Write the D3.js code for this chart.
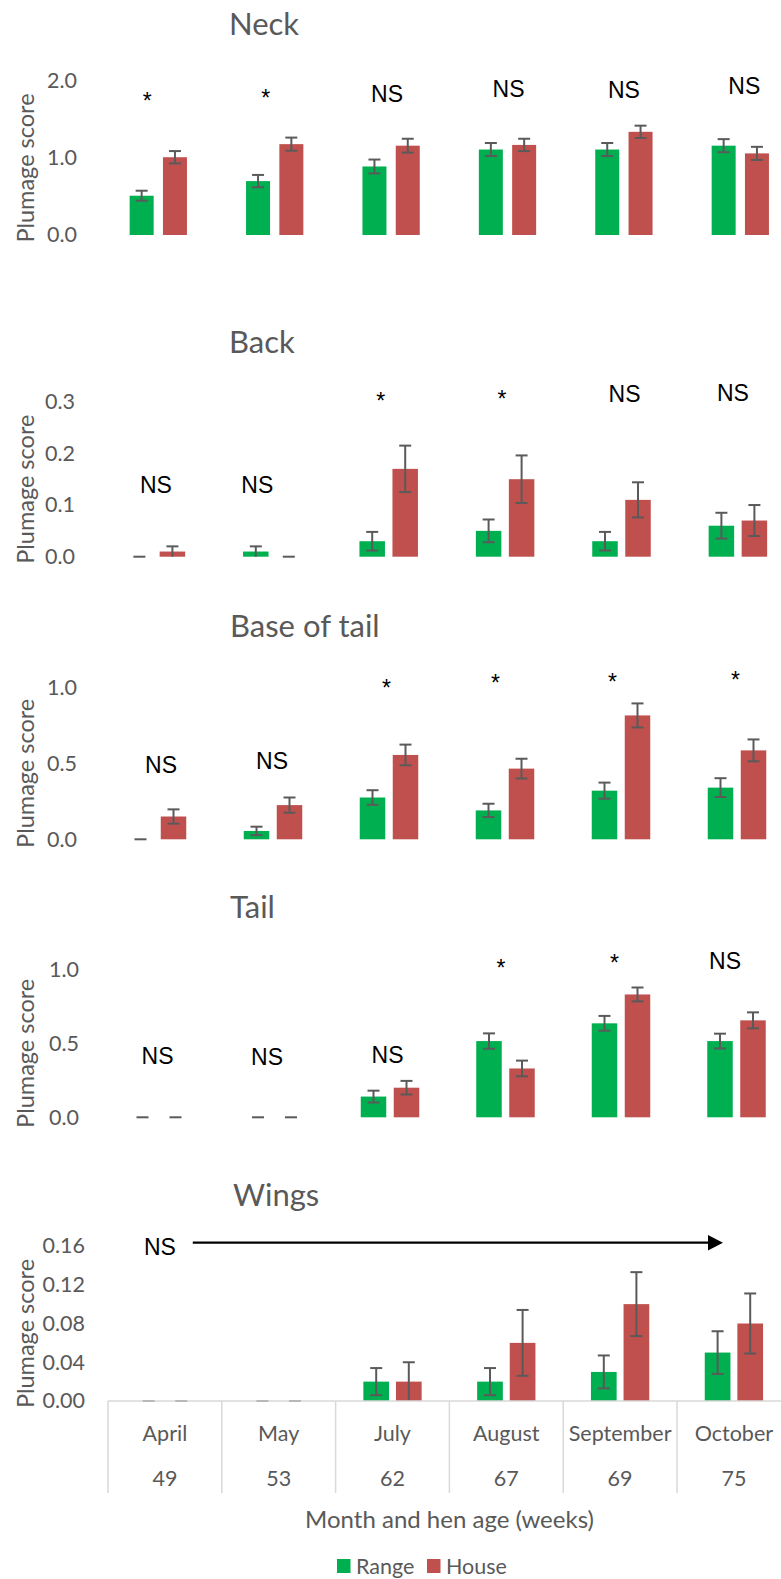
<!DOCTYPE html>
<html>
<head>
<meta charset="utf-8">
<script src="https://cdn.jsdelivr.net/npm/d3@7"></script>
<style>
  html, body { margin: 0; padding: 0; background: #fff; }
  svg { display: block; }
</style>
</head>
<body>
<script>
// ---- categories -------------------------------------------------------
const months = ["April", "May", "July", "August", "September", "October"];
const ages = ["49", "53", "62", "67", "69", "75"];
const seriesNames = ["Range", "House"];

// ---- plumage scores (mean) and standard errors --------------------------
const neckRange    = [0.51, 0.70, 0.89, 1.11, 1.11, 1.16];
const neckRangeSE  = [0.065, 0.08, 0.09, 0.085, 0.085, 0.085];
const neckHouse    = [1.01, 1.18, 1.16, 1.17, 1.34, 1.06];
const neckHouseSE  = [0.08, 0.085, 0.09, 0.08, 0.08, 0.085];
const neckSig      = ["*", "*", "NS", "NS", "NS", "NS"];

const backRange    = [0, 0.01, 0.03, 0.05, 0.03, 0.06];
const backRangeSE  = [0, 0.01, 0.018, 0.022, 0.018, 0.025];
const backHouse    = [0.01, 0, 0.17, 0.15, 0.11, 0.07];
const backHouseSE  = [0.01, 0, 0.045, 0.046, 0.034, 0.03];
const backSig      = ["NS", "NS", "*", "*", "NS", "NS"];

const baseRange    = [0, 0.055, 0.275, 0.19, 0.32, 0.34];
const baseRangeSE  = [0, 0.028, 0.048, 0.044, 0.053, 0.062];
const baseHouse    = [0.15, 0.225, 0.555, 0.465, 0.815, 0.585];
const baseHouseSE  = [0.047, 0.05, 0.068, 0.065, 0.079, 0.072];
const baseSig      = ["NS", "NS", "*", "*", "*", "*"];

const tailRange    = [0, 0, 0.14, 0.515, 0.635, 0.515];
const tailRangeSE  = [0, 0, 0.04, 0.052, 0.05, 0.05];
const tailHouse    = [0, 0, 0.20, 0.33, 0.83, 0.655];
const tailHouseSE  = [0, 0, 0.046, 0.053, 0.047, 0.054];
const tailSig      = ["NS", "NS", "NS", "*", "*", "NS"];

const wingsRange   = [0, 0, 0.02, 0.02, 0.03, 0.05];
const wingsRangeSE = [0, 0, 0.014, 0.014, 0.017, 0.022];
const wingsHouse   = [0, 0, 0.02, 0.06, 0.10, 0.08];
const wingsHouseSE = [0, 0, 0.02, 0.034, 0.033, 0.031];
const wingsSig     = "NS";

// ---- tick labels ------------------------------------------------------
const neckTicks  = [0, 1, 2];
const backTicks  = [0, 0.1, 0.2, 0.3];
const baseTicks  = [0, 0.5, 1];
const tailTicks  = [0, 0.5, 1];
const wingsTicks = [0, 0.04, 0.08, 0.12, 0.16];

// ---- styling ----------------------------------------------------------
const colors = { Range: "#00B050", House: "#C0504D" };
const grayText = "#595959";
const uiFont = "Lato, 'Open Sans', sans-serif";
const markFont = "'Liberation Sans', Arial, sans-serif";

const W = 781, H = 1579;
const svg = d3.select("body").append("svg")
  .attr("width", W).attr("height", H)
  .attr("viewBox", `0 0 ${W} ${H}`);

// Panel geometry; significance marks sit at a score level per column
// with a small horizontal nudge in pixels.
const panels = [
  { title: "Neck", range: neckRange, rangeSE: neckRangeSE, house: neckHouse, houseSE: neckHouseSE,
    sig: neckSig, sigLevel: [1.64, 1.68, 1.73, 1.79, 1.78, 1.83], sigNudge: [-11, -9, -4, 1, 0, 4],
    yMax: 2.0, ticks: neckTicks, fmt: ".1f",
    top: 81, bottom: 235, left: 100.1, step: 116.4, bw: 24, pair: 33.3, tickX: 77, titleX: 229, titleY: 35 },
  { title: "Back", range: backRange, rangeSE: backRangeSE, house: backHouse, houseSE: backHouseSE,
    sig: backSig, sigLevel: [0.123, 0.123, 0.286, 0.29, 0.30, 0.302], sigNudge: [0, -15, -8, -3, 3, -5],
    yMax: 0.3, ticks: backTicks, fmt: ".1f",
    top: 401.7, bottom: 556.7, left: 97.7, step: 116.4, bw: 25.5, pair: 33, tickX: 75, titleX: 229, titleY: 353 },
  { title: "Base of tail", range: baseRange, rangeSE: baseRangeSE, house: baseHouse, houseSE: baseHouseSE,
    sig: baseSig, sigLevel: [0.438, 0.463, 0.945, 0.974, 0.98, 0.998], sigNudge: [4, -1, -2.5, -9.5, -8.5, -1.5],
    yMax: 1.0, ticks: baseTicks, fmt: ".1f",
    top: 687.3, bottom: 839.3, left: 99, step: 116, bw: 25.5, pair: 33, tickX: 77, titleX: 230, titleY: 637 },
  { title: "Tail", range: tailRange, rangeSE: tailRangeSE, house: tailHouse, houseSE: tailHouseSE,
    sig: tailSig, sigLevel: [0.358, 0.353, 0.367, 0.957, 0.991, 1.002], sigNudge: [-1.5, -7.5, -2.5, -4.5, -6.5, -11.5],
    yMax: 1.0, ticks: tailTicks, fmt: ".1f",
    top: 969.3, bottom: 1117.3, left: 101.25, step: 115.5, bw: 25.5, pair: 33, tickX: 79, titleX: 230, titleY: 918 },
  { title: "Wings", range: wingsRange, rangeSE: wingsRangeSE, house: wingsHouse, houseSE: wingsHouseSE,
    sig: null, yMax: 0.16, ticks: wingsTicks, fmt: ".2f",
    top: 1246, bottom: 1401, left: 108, step: 113.8, bw: 25.7, pair: 32.6, tickX: 85, titleX: 233, titleY: 1206 }
];

let wingsX = null, wingsY = null;

panels.forEach(p => {
  const g = svg.append("g").attr("class", "panel");

  const x = d3.scaleBand().domain(months).range([p.left, p.left + p.step * months.length]);
  const half = (p.pair + p.bw) / 2;
  const xs = d3.scaleBand().domain(seriesNames)
    .range([x.bandwidth() / 2 - half, x.bandwidth() / 2 + half])
    .paddingInner(1 - p.bw / p.pair);
  const y = d3.scaleLinear().domain([0, p.yMax]).range([p.bottom, p.top]);

  if (p.title === "Wings") { wingsX = x; wingsY = y; }

  // title
  g.append("text")
    .attr("x", p.titleX).attr("y", p.titleY)
    .attr("font-family", uiFont).attr("font-size", 31)
    .attr("fill", grayText)
    .text(p.title);

  // y axis tick labels
  const axis = d3.axisLeft(y).tickValues(p.ticks).tickFormat(d3.format(p.fmt))
    .tickSize(0).tickPadding(0);
  const ax = g.append("g").attr("transform", `translate(${p.tickX},0)`).call(axis);
  ax.select(".domain").remove();
  ax.selectAll("text")
    .attr("font-family", uiFont).attr("font-size", 21.5)
    .attr("fill", grayText);

  // y axis title
  g.append("text")
    .attr("transform", `translate(25,${(p.top + p.bottom) / 2 + 10}) rotate(-90)`)
    .attr("text-anchor", "middle").attr("dominant-baseline", "central")
    .attr("font-family", uiFont).attr("font-size", 23.5)
    .attr("fill", grayText)
    .text("Plumage score");

  const rows = [];
  months.forEach((m, i) => {
    rows.push({ month: m, series: "Range", value: p.range[i], se: p.rangeSE[i] });
    rows.push({ month: m, series: "House", value: p.house[i], se: p.houseSE[i] });
  });

  // bars
  g.append("g").selectAll("rect")
    .data(rows.filter(d => d.value > 0))
    .join("rect")
    .attr("x", d => x(d.month) + xs(d.series))
    .attr("width", xs.bandwidth())
    .attr("y", d => y(d.value))
    .attr("height", d => y(0) - y(d.value))
    .attr("fill", d => colors[d.series]);

  // error bars
  const capHalf = 6;
  const eb = g.append("g").attr("stroke", "#5a5a5a").attr("stroke-width", 2).attr("fill", "none")
    .selectAll("g").data(rows).join("g")
    .attr("transform", d => `translate(${x(d.month) + xs(d.series) + xs.bandwidth() / 2},0)`);
  eb.filter(d => d.se > 0).append("line")
    .attr("y1", d => y(Math.max(0, d.value - d.se)))
    .attr("y2", d => y(d.value + d.se));
  eb.append("line")
    .attr("x1", -capHalf).attr("x2", capHalf)
    .attr("y1", d => y(d.value + d.se)).attr("y2", d => y(d.value + d.se));
  eb.filter(d => d.value - d.se > 0).append("line")
    .attr("x1", -capHalf).attr("x2", capHalf)
    .attr("y1", d => y(d.value - d.se)).attr("y2", d => y(d.value - d.se));

  // significance marks
  if (p.sig) {
    g.append("g").selectAll("text")
      .data(months.map((m, i) => ({ month: m, label: p.sig[i], level: p.sigLevel[i], nudge: p.sigNudge[i] })))
      .join("text")
      .attr("x", d => x(d.month) + x.bandwidth() / 2 + d.nudge)
      .attr("y", d => y(d.level))
      .attr("text-anchor", "middle")
      .attr("font-family", markFont).attr("font-size", 23)
      .attr("fill", "#000")
      .text(d => d.label);
  }
});

// ---- wings: trend arrow, category axis ---------------------------------
{
  const x = wingsX, y = wingsY;
  const step = x.step();
  const arrowY = y(0.1634);
  const x0 = x(months[0]) + step * 0.745;
  const xTip = x(months[months.length - 1]) + step * 0.404;

  svg.append("text")
    .attr("x", x(months[0]) + x.bandwidth() / 2 - 5).attr("y", y(0.1507))
    .attr("text-anchor", "middle")
    .attr("font-family", markFont).attr("font-size", 23)
    .text(wingsSig);

  svg.append("line")
    .attr("x1", x0).attr("x2", xTip - 10)
    .attr("y1", arrowY).attr("y2", arrowY)
    .attr("stroke", "#000").attr("stroke-width", 2.3);
  svg.append("path")
    .attr("d", `M${xTip - 15},${arrowY - 7.7} L${xTip},${arrowY} L${xTip - 15},${arrowY + 7.7} Z`)
    .attr("fill", "#000");

  const axisColor = "#d9d9d9";
  const base = y(0);
  svg.append("line")
    .attr("x1", x.range()[0]).attr("x2", x.range()[1])
    .attr("y1", base).attr("y2", base)
    .attr("stroke", axisColor).attr("stroke-width", 1.5);

  const bounds = months.map(m => x(m)).concat([x.range()[1]]);
  svg.append("g").selectAll("line").data(bounds).join("line")
    .attr("x1", d => d).attr("x2", d => d)
    .attr("y1", base).attr("y2", base + 92)
    .attr("stroke", axisColor).attr("stroke-width", 1.5);

  svg.append("g").selectAll("text").data(months).join("text")
    .attr("x", d => x(d) + x.bandwidth() / 2).attr("y", base + 32)
    .attr("text-anchor", "middle").attr("dominant-baseline", "central")
    .attr("font-family", uiFont).attr("font-size", 21.5).attr("fill", grayText)
    .text(d => d);

  svg.append("g").selectAll("text").data(ages).join("text")
    .attr("x", (d, i) => x(months[i]) + x.bandwidth() / 2).attr("y", base + 77)
    .attr("text-anchor", "middle").attr("dominant-baseline", "central")
    .attr("font-family", uiFont).attr("font-size", 21.5).attr("fill", grayText)
    .text(d => d);

  svg.append("text")
    .attr("x", 449.5).attr("y", base + 117)
    .attr("text-anchor", "middle").attr("dominant-baseline", "central")
    .attr("font-family", uiFont).attr("font-size", 24).attr("fill", grayText)
    .text("Month and hen age (weeks)");

  // legend
  const lg = svg.append("g").attr("transform", `translate(337,${base + 165})`);
  const items = lg.selectAll("g").data(seriesNames).join("g")
    .attr("transform", (d, i) => `translate(${i * 90},0)`);
  items.append("rect").attr("x", 0).attr("y", -7).attr("width", 13.5).attr("height", 14)
    .attr("fill", d => colors[d]);
  items.append("text").attr("x", 19).attr("y", 0)
    .attr("dominant-baseline", "central")
    .attr("font-family", uiFont).attr("font-size", 21.5).attr("fill", grayText)
    .text(d => d);
}
</script>
</body>
</html>
